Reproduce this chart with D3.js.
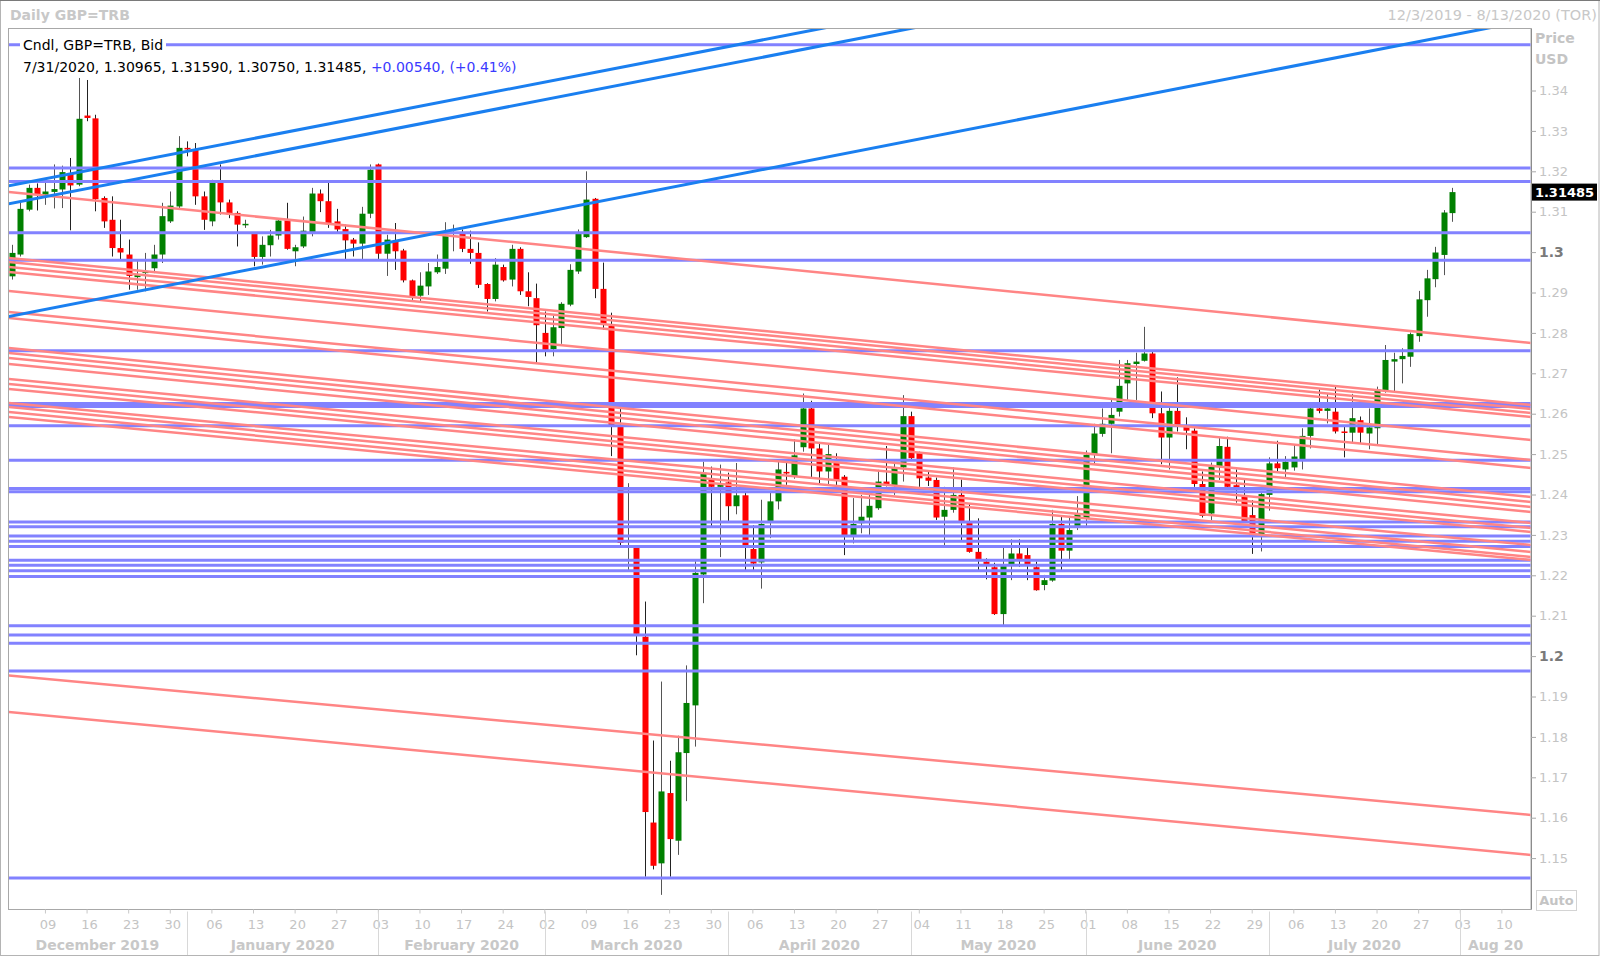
<!DOCTYPE html>
<html><head><meta charset="utf-8">
<script src="https://cdn.jsdelivr.net/npm/d3@7"></script>
<style>
body{margin:0;background:#fff;}
svg{display:block;}
</style>
</head><body>
<svg id="c" width="1600" height="958"></svg>
<script>
// ---------------- DATA ----------------
const dates = [
"2019-12-03","2019-12-04","2019-12-05","2019-12-06",
"2019-12-09","2019-12-10","2019-12-11","2019-12-12","2019-12-13",
"2019-12-16","2019-12-17","2019-12-18","2019-12-19","2019-12-20",
"2019-12-23","2019-12-24","2019-12-25","2019-12-26","2019-12-27",
"2019-12-30","2019-12-31","2020-01-01","2020-01-02","2020-01-03",
"2020-01-06","2020-01-07","2020-01-08","2020-01-09","2020-01-10",
"2020-01-13","2020-01-14","2020-01-15","2020-01-16","2020-01-17",
"2020-01-20","2020-01-21","2020-01-22","2020-01-23","2020-01-24",
"2020-01-27","2020-01-28","2020-01-29","2020-01-30","2020-01-31",
"2020-02-03","2020-02-04","2020-02-05","2020-02-06","2020-02-07",
"2020-02-10","2020-02-11","2020-02-12","2020-02-13","2020-02-14",
"2020-02-17","2020-02-18","2020-02-19","2020-02-20","2020-02-21",
"2020-02-24","2020-02-25","2020-02-26","2020-02-27","2020-02-28",
"2020-03-02","2020-03-03","2020-03-04","2020-03-05","2020-03-06",
"2020-03-09","2020-03-10","2020-03-11","2020-03-12","2020-03-13",
"2020-03-16","2020-03-17","2020-03-18","2020-03-19","2020-03-20",
"2020-03-23","2020-03-24","2020-03-25","2020-03-26","2020-03-27",
"2020-03-30","2020-03-31","2020-04-01","2020-04-02","2020-04-03",
"2020-04-06","2020-04-07","2020-04-08","2020-04-09","2020-04-10",
"2020-04-13","2020-04-14","2020-04-15","2020-04-16","2020-04-17",
"2020-04-20","2020-04-21","2020-04-22","2020-04-23","2020-04-24",
"2020-04-27","2020-04-28","2020-04-29","2020-04-30","2020-05-01",
"2020-05-04","2020-05-05","2020-05-06","2020-05-07","2020-05-08",
"2020-05-11","2020-05-12","2020-05-13","2020-05-14","2020-05-15",
"2020-05-18","2020-05-19","2020-05-20","2020-05-21","2020-05-22",
"2020-05-25","2020-05-26","2020-05-27","2020-05-28","2020-05-29",
"2020-06-01","2020-06-02","2020-06-03","2020-06-04","2020-06-05",
"2020-06-08","2020-06-09","2020-06-10","2020-06-11","2020-06-12",
"2020-06-15","2020-06-16","2020-06-17","2020-06-18","2020-06-19",
"2020-06-22","2020-06-23","2020-06-24","2020-06-25","2020-06-26",
"2020-06-29","2020-06-30","2020-07-01","2020-07-02","2020-07-03",
"2020-07-06","2020-07-07","2020-07-08","2020-07-09","2020-07-10",
"2020-07-13","2020-07-14","2020-07-15","2020-07-16","2020-07-17",
"2020-07-20","2020-07-21","2020-07-22","2020-07-23","2020-07-24",
"2020-07-27","2020-07-28","2020-07-29","2020-07-30","2020-07-31"];

const openP = [
1.2940,1.2994,1.3105,1.3159,1.3142,1.3149,1.3155,1.3196,1.3167,1.3338,
1.3331,1.3134,1.3080,1.3010,1.2994,1.2938,1.2948,1.2960,1.2994,1.3076,
1.3113,1.3258,1.3254,1.3138,1.3076,1.3171,1.3123,1.3097,1.3067,1.3045,
1.2988,1.3017,1.3041,1.3078,1.3002,1.3014,1.3049,1.3145,1.3126,1.3076,
1.3057,1.3031,1.3021,1.3095,1.3217,1.2996,1.3027,1.3004,1.2930,1.2892,
1.2915,1.2950,1.2959,1.3046,1.3047,1.3008,1.2998,1.2921,1.2884,1.2963,
1.2932,1.3008,1.2903,1.2886,1.2800,1.2760,1.2812,1.2870,1.2952,1.3037,
1.3132,1.2909,1.2817,1.2569,1.2271,1.2273,1.2048,1.1588,1.1487,1.1661,
1.1543,1.1760,1.1878,1.2202,1.2436,1.2419,1.2430,1.2371,1.2398,1.2265,
1.2232,1.2332,1.2383,1.2456,1.2444,1.2517,1.2613,1.2514,1.2457,1.2481,
1.2444,1.2297,1.2329,1.2343,1.2366,1.2432,1.2421,1.2467,1.2594,1.2503,
1.2442,1.2436,1.2345,1.2362,1.2399,1.2333,1.2258,1.2234,1.2220,1.2104,
1.2225,1.2254,1.2250,1.2220,1.2176,1.2187,1.2327,1.2261,1.2320,1.2340,
1.2498,1.2550,1.2575,1.2605,1.2675,1.2723,1.2731,1.2749,1.2601,1.2541,
1.2607,1.2572,1.2558,1.2426,1.2353,1.2469,1.2518,1.2423,1.2395,1.2349,
1.2300,1.2399,1.2477,1.2462,1.2467,1.2487,1.2545,1.2613,1.2607,1.2605,
1.2556,1.2553,1.2584,1.2551,1.2564,1.2657,1.2729,1.2735,1.2741,1.2792,
1.2881,1.2933,1.2993,1.30965];

const highP = [
1.3018,1.3122,1.3167,1.3170,1.3175,1.3217,1.3214,1.3233,1.3431,1.3426,
1.3340,1.3138,1.3138,1.3080,1.3031,1.2981,1.2998,1.3018,1.3122,1.3150,
1.3287,1.3274,1.3270,1.3150,1.3179,1.3217,1.3130,1.3101,1.3080,1.3049,
1.3039,1.3055,1.3084,1.3122,1.3018,1.3088,1.3159,1.3155,1.3171,1.3107,
1.3068,1.3035,1.3112,1.3217,1.3219,1.3043,1.3072,1.3008,1.2932,1.2950,
1.2973,1.2994,1.3074,1.3068,1.3056,1.3053,1.3024,1.2923,1.2985,1.2969,
1.3018,1.3012,1.2950,1.2922,1.2853,1.2843,1.2876,1.2970,1.3056,1.3200,
1.3134,1.2974,1.2850,1.2614,1.2428,1.2275,1.2135,1.1791,1.1937,1.1741,
1.1803,1.1977,1.2235,1.2481,1.2469,1.2474,1.2454,1.2478,1.2407,1.2324,
1.2387,1.2407,1.2481,1.2481,1.2537,1.2650,1.2632,1.2527,1.2527,1.2502,
1.2448,1.2391,1.2399,1.2403,1.2461,1.2520,1.2481,1.2646,1.2605,1.2506,
1.2460,1.2442,1.2419,1.2467,1.2437,1.2378,1.2341,1.2242,1.2231,1.2271,
1.2289,1.2289,1.2271,1.2234,1.2201,1.2362,1.2349,1.2347,1.2396,1.2509,
1.2575,1.2613,1.2634,1.2733,1.2733,1.2751,1.2815,1.2754,1.2655,1.2617,
1.2690,1.2591,1.2564,1.2457,1.2479,1.2541,1.2543,1.2462,1.2436,1.2386,
1.2407,1.2492,1.2533,1.2495,1.2525,1.2564,1.2619,1.2660,1.2650,1.2669,
1.2568,1.2649,1.2593,1.2613,1.2667,1.2770,1.2751,1.2762,1.2801,1.2904,
1.2956,1.3013,1.3104,1.31590];

const lowP = [
1.2932,1.2989,1.3101,1.3103,1.3117,1.3108,1.3109,1.3054,1.3163,1.3324,
1.3101,1.3060,1.2989,1.2981,1.2907,1.2907,1.2903,1.2948,1.2973,1.3072,
1.3109,1.3237,1.3117,1.3055,1.3064,1.3093,1.3084,1.3014,1.3060,1.2965,
1.2969,1.2989,1.3031,1.3006,1.2965,1.3010,1.3039,1.3099,1.3060,1.3047,
1.2983,1.2989,1.2983,1.3084,1.2983,1.2941,1.2956,1.2925,1.2882,1.2874,
1.2894,1.2946,1.2946,1.3002,1.3000,1.2971,1.2911,1.2853,1.2878,1.2927,
1.2915,1.2894,1.2866,1.2725,1.2742,1.2742,1.2773,1.2866,1.2946,1.3035,
1.2886,1.2808,1.2495,1.2271,1.2212,1.2002,1.1454,1.1472,1.1409,1.1454,
1.1508,1.1641,1.1776,1.2131,1.2318,1.2245,1.2332,1.2351,1.2212,1.2212,
1.2167,1.2292,1.2363,1.2424,1.2439,1.2506,1.2440,1.2428,1.2424,1.2421,
1.2250,1.2279,1.2304,1.2300,1.2362,1.2420,1.2399,1.2432,1.2485,1.2419,
1.2421,1.2337,1.2269,1.2355,1.2283,1.2256,1.2209,1.2190,1.2102,1.2077,
1.2188,1.2221,1.2188,1.2162,1.2163,1.2184,1.2209,1.2238,1.2312,1.2320,
1.2477,1.2543,1.2502,1.2593,1.2634,1.2634,1.2729,1.2589,1.2475,1.2462,
1.2556,1.2512,1.2419,1.2343,1.2337,1.2436,1.2415,1.2380,1.2330,1.2253,
1.2259,1.2360,1.2457,1.2440,1.2459,1.2462,1.2514,1.2601,1.2576,1.2551,
1.2492,1.2527,1.2527,1.2512,1.2523,1.2652,1.2652,1.2675,1.2716,1.2778,
1.2840,1.2913,1.2943,1.30750];

const closeP = [
1.2998,1.3107,1.3159,1.3142,1.3150,1.3156,1.3198,1.3165,1.3330,1.3332,
1.3131,1.3076,1.3010,1.2999,1.2941,1.2944,1.2952,1.2994,1.3089,1.3115,
1.3258,1.3254,1.3138,1.3080,1.3171,1.3123,1.3093,1.3068,1.3070,1.2988,
1.3018,1.3041,1.3078,1.3008,1.3012,1.3053,1.3145,1.3126,1.3072,1.3056,
1.3029,1.3021,1.3095,1.3204,1.2996,1.3031,1.3002,1.2930,1.2890,1.2917,
1.2952,1.2963,1.3043,1.3049,1.3008,1.2998,1.2919,1.2884,1.2969,1.2930,
1.3008,1.2903,1.2889,1.2819,1.2758,1.2814,1.2872,1.2956,1.3047,1.3130,
1.2909,1.2820,1.2572,1.2280,1.2275,1.2055,1.1614,1.1481,1.1665,1.1547,
1.1762,1.1884,1.2206,1.2454,1.2419,1.2425,1.2371,1.2398,1.2268,1.2229,
1.2327,1.2383,1.2462,1.2452,1.2497,1.2613,1.2514,1.2457,1.2500,1.2436,
1.2297,1.2327,1.2345,1.2372,1.2432,1.2421,1.2467,1.2594,1.2490,1.2440,
1.2434,1.2343,1.2362,1.2399,1.2333,1.2258,1.2238,1.2228,1.2104,1.2225,
1.2254,1.2238,1.2225,1.2163,1.2188,1.2327,1.2261,1.2312,1.2354,1.2498,
1.2551,1.2575,1.2597,1.2669,1.2725,1.2729,1.2749,1.2601,1.2541,1.2607,
1.2572,1.2558,1.2426,1.2347,1.2469,1.2520,1.2419,1.2418,1.2333,1.2300,
1.2401,1.2477,1.2465,1.2481,1.2494,1.2545,1.2613,1.2607,1.2613,1.2556,
1.2553,1.2589,1.2553,1.2566,1.2660,1.2733,1.2735,1.2743,1.2797,1.2883,
1.2935,1.2999,1.3098,1.31485];

// horizontal support / resistance levels (price)
const hLevels = [1.3513,1.3208,1.3175,1.3048,1.2980,1.2756,1.2625,1.2618,1.2570,1.2485,
  1.2415,1.2407,1.2332,1.2320,1.2297,1.2284,1.2271,1.2237,1.2225,1.2211,1.2197,
  1.2075,1.2052,1.2032,1.1963,1.1451];

// rising trend lines: price at left edge / right edge of the time axis
const blueStart = [1.31636,1.31191,1.28401];
const blueEnd   = [1.38936,1.38522,1.35752];

// falling trend lines: price at left edge / right edge
const redStart = [1.31488,1.29854,1.29755,1.29631,1.29507,1.29037,1.28517,1.28369,
  1.27626,1.27502,1.27379,1.27230,1.26859,1.26735,1.26611,1.26265,1.26166,1.26042,1.25918,
  1.19520,1.18616];
const redEnd = [1.27750,1.26215,1.26116,1.26017,1.25918,1.25349,1.24854,1.24656,
  1.23938,1.23814,1.23690,1.23567,1.23295,1.23171,1.23072,1.22750,1.22577,1.22453,1.22379,
  1.16067,1.15077];

const yTicks = [1.15,1.16,1.17,1.18,1.19,1.2,1.21,1.22,1.23,1.24,1.25,1.26,1.27,1.28,1.29,1.3,1.31,1.32,1.33,1.34];
const monthLabels = ["December 2019","January 2020","February 2020","March 2020","April 2020","May 2020","June 2020","July 2020","Aug 20"];
const axisStart = "2019-12-03", axisEnd = "2020-08-13";
const lastPrice = "1.31485";

// ---------------- LAYOUT ----------------
const FONT = "'DejaVu Sans', Verdana, sans-serif";
const L = 8, R = 1531, T = 28.5, B = 909.5;
const svg = d3.select("#c");
const parse = d3.timeParse("%Y-%m-%d"), fmt = d3.timeFormat("%Y-%m-%d");
const axisDays = d3.timeDay.range(parse(axisStart), d3.timeDay.offset(parse(axisEnd), 1))
  .filter(d => d.getDay() !== 0 && d.getDay() !== 6);
const x = d3.scaleBand().domain(axisDays.map(fmt)).range([L, R]).padding(0);
const bw = x.bandwidth();
const y = d3.scaleLinear().domain([1.15, 1.34]).range([858.1, 90.5]);

// outer frame
svg.append("rect").attr("x",0.5).attr("y",0.5).attr("width",1598.5).attr("height",955)
  .attr("fill","#fff").attr("stroke","#b4b4b4");
svg.append("line").attr("x1",0).attr("x2",1600).attr("y1",0.5).attr("y2",0.5).attr("stroke","#7a7a7a");

// titles
svg.append("text").attr("x",10).attr("y",20).text("Daily GBP=TRB")
  .attr("font-family",FONT).attr("font-size",14).attr("font-weight","bold").attr("fill","#c8c8c8");
svg.append("text").attr("x",1597).attr("y",20).attr("text-anchor","end").text("12/3/2019 - 8/13/2020 (TOR)")
  .attr("font-family",FONT).attr("font-size",14.5).attr("fill","#c8c8c8");

// plot box
svg.append("rect").attr("x",L+0.5).attr("y",T).attr("width",R-L-0.5).attr("height",B-T)
  .attr("fill","#fff").attr("stroke","#a8a8a8");

svg.append("clipPath").attr("id","clip").append("rect")
  .attr("x",L+1).attr("y",T+0.5).attr("width",R-L-1.5).attr("height",B-T-1);

const plot = svg.append("g").attr("clip-path","url(#clip)");

// candles
const cw = 6;
const candles = plot.append("g");
dates.forEach((d,i) => {
  const cx = Math.round(x(d) + bw/2) + 0.5;
  const up = closeP[i] >= openP[i];
  candles.append("line").attr("x1",cx).attr("x2",cx)
    .attr("y1",y(highP[i])).attr("y2",y(lowP[i]))
    .attr("stroke", up ? "#555" : "#222").attr("stroke-width",1);
  const yt = y(Math.max(openP[i],closeP[i])), yb = y(Math.min(openP[i],closeP[i]));
  candles.append("rect").attr("x",cx-cw/2).attr("y",yt)
    .attr("width",cw).attr("height",Math.max(1.5,yb-yt))
    .attr("fill", up ? "#008000" : "#ff0000");
});

// horizontal levels
plot.append("g").selectAll("line").data(hLevels).join("line")
  .attr("x1",L).attr("x2",R).attr("y1",d=>y(d)).attr("y2",d=>y(d))
  .attr("stroke","#8282ff").attr("stroke-width",3);

// falling trend lines
plot.append("g").selectAll("line").data(redStart).join("line")
  .attr("x1",L).attr("x2",R).attr("y1",d=>y(d)).attr("y2",(d,i)=>y(redEnd[i]))
  .attr("stroke","#ff8585").attr("stroke-width",2.5);

// rising trend lines
plot.append("g").selectAll("line").data(blueStart).join("line")
  .attr("x1",L).attr("x2",R).attr("y1",d=>y(d)).attr("y2",(d,i)=>y(blueEnd[i]))
  .attr("stroke","#1a7ff0").attr("stroke-width",3);

// legend
const lg = svg.append("g").attr("font-family",FONT).attr("font-size",14);
lg.append("rect").attr("x",20).attr("y",37).attr("width",146).attr("height",17).attr("fill","#fff");
lg.append("text").attr("x",23).attr("y",50).text("Cndl, GBP=TRB, Bid").attr("fill","#000");
const l2 = lg.append("text").attr("x",23).attr("y",72);
l2.append("tspan").attr("fill","#000").text("7/31/2020, 1.30965, 1.31590, 1.30750, 1.31485, ");
l2.append("tspan").attr("fill","#3a3aff").text("+0.00540, (+0.41%)");

// right axis
const yAxis = d3.axisRight(y).tickValues(yTicks).tickSize(5).tickPadding(3)
  .tickFormat(d => d3.format(".2~f")(d));
const gy = svg.append("g").attr("transform",`translate(${R},0)`).call(yAxis);
gy.attr("font-family",FONT).attr("font-size",13);
gy.select(".domain").attr("stroke","#8c8c8c").attr("d",`M0.5,${T}V${B}`);
gy.selectAll(".tick line").attr("stroke","#a8a8a8");
gy.selectAll(".tick text")
  .attr("fill", d => (Math.abs(d-1.3)<1e-9 || Math.abs(d-1.2)<1e-9) ? "#7a7a7a" : "#c4c4c4")
  .attr("font-weight", d => (Math.abs(d-1.3)<1e-9 || Math.abs(d-1.2)<1e-9) ? "bold" : "normal")
  .attr("font-size", d => (Math.abs(d-1.3)<1e-9 || Math.abs(d-1.2)<1e-9) ? 14 : 13);

svg.append("text").attr("x",1535).attr("y",43).text("Price")
  .attr("font-family",FONT).attr("font-size",14).attr("font-weight","bold").attr("fill","#c4c4c4");
svg.append("text").attr("x",1535).attr("y",64).text("USD")
  .attr("font-family",FONT).attr("font-size",14).attr("font-weight","bold").attr("fill","#c4c4c4");

// last price tag
const ly = y(+lastPrice);
svg.append("rect").attr("x",R+1).attr("y",ly-8.5).attr("width",65).attr("height",17).attr("fill","#000");
svg.append("text").attr("x",R+33.5).attr("y",ly+5).attr("text-anchor","middle").text(lastPrice)
  .attr("font-family",FONT).attr("font-size",13).attr("font-weight","bold").attr("fill","#fff");

// Auto box
svg.append("rect").attr("x",1536.5).attr("y",890.5).attr("width",40).attr("height",20)
  .attr("fill","#fff").attr("stroke","#d4d4d4");
svg.append("text").attr("x",1556.5).attr("y",905).attr("text-anchor","middle").text("Auto")
  .attr("font-family",FONT).attr("font-size",13).attr("font-weight","bold").attr("fill","#c4c4c4");

// bottom axis (weekly Mondays)
const mondays = axisDays.filter(d => d.getDay() === 1).map(fmt);
const xAxis = d3.axisBottom(x).tickValues(mondays).tickSize(4).tickPadding(6)
  .tickFormat(d => d.slice(8));
const gx = svg.append("g").attr("transform",`translate(0,${B})`).call(xAxis);
gx.attr("font-family",FONT).attr("font-size",13);
gx.select(".domain").remove();
gx.selectAll(".tick line").attr("stroke","#c8c8c8");
gx.selectAll(".tick text").attr("fill","#c4c4c4").attr("dx",2.5);

// month separators and labels
const firstOfMonth = [];
let prevM = null;
axisDays.forEach(d => { const m = d.getMonth(); if (m !== prevM) { firstOfMonth.push(fmt(d)); prevM = m; } });
const sepX = firstOfMonth.slice(1).map(d => x(d) + bw/2);
svg.append("g").selectAll("line").data(sepX).join("line")
  .attr("x1",d=>Math.round(d)+0.5).attr("x2",d=>Math.round(d)+0.5)
  .attr("y1",B+2).attr("y2",955).attr("stroke","#d8d8d8");
const bounds = [L, ...sepX, R];
svg.append("g").selectAll("text").data(monthLabels).join("text")
  .attr("x",(d,i)=>(bounds[i]+bounds[i+1])/2).attr("y",950).attr("text-anchor","middle")
  .text(d=>d).attr("font-family",FONT).attr("font-size",14).attr("font-weight","bold").attr("fill","#c8c8c8");
</script>
</body></html>
